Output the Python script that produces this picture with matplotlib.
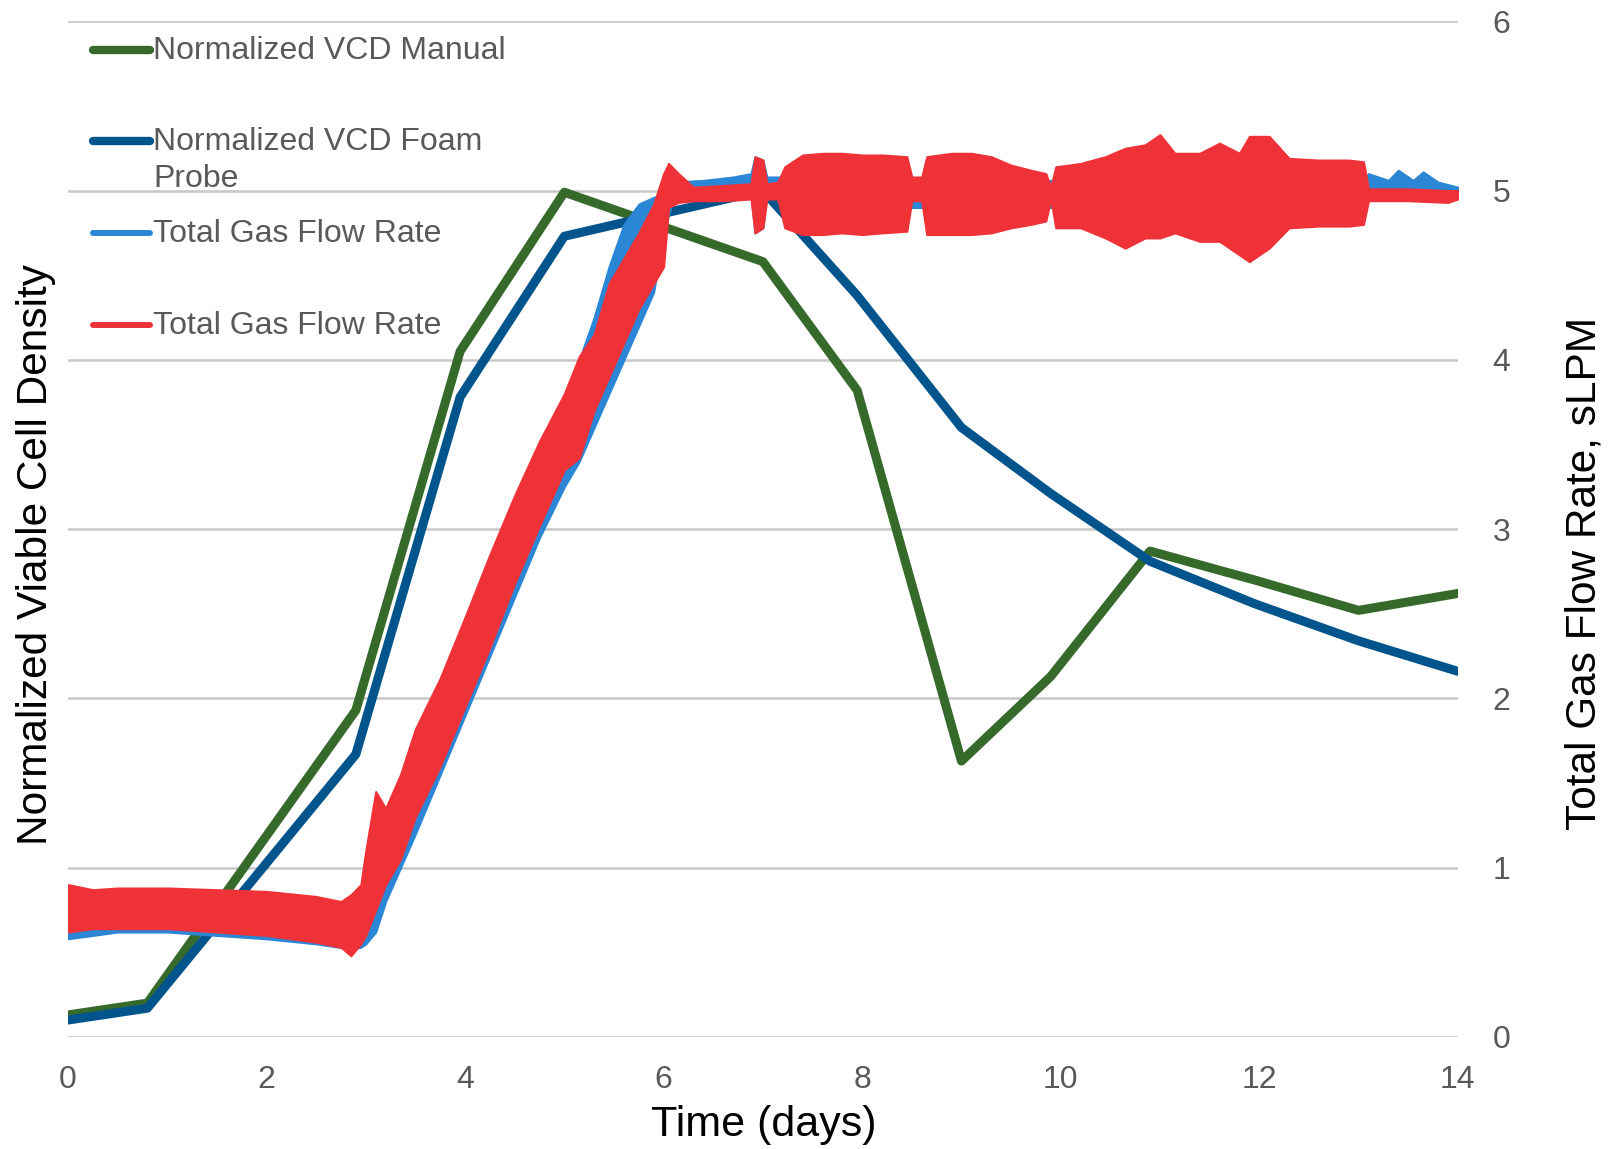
import matplotlib
matplotlib.use('Agg')
import matplotlib.pyplot as plt
from matplotlib.lines import Line2D

plt.rcParams['font.family'] = ['Liberation Sans', 'DejaVu Sans']

# VCD sampling days and values (plotted against the 0-6 scale)
vcd_days = [0.0, 0.8, 2.9, 3.95, 5.0, 7.0, 7.95, 9.0, 9.9, 10.9, 11.95, 13.0, 14.0]
vcd_manual = [0.13, 0.2, 1.93, 4.05, 4.99, 4.58, 3.82, 1.63, 2.13, 2.87, 2.70, 2.52, 2.62]
vcd_probe = [0.1, 0.17, 1.67, 3.78, 4.73, 5.0, 4.38, 3.6, 3.21, 2.81, 2.56, 2.34, 2.16]

# gas flow (red trace): noise envelope
red_t = [0.0, 0.25, 0.5, 1.0, 1.5, 2.0, 2.5, 2.75, 2.85, 2.95, 3.0, 3.1, 3.2, 3.35,
         3.5, 3.75, 4.0, 4.25, 4.5, 4.75, 5.0, 5.15, 5.3, 5.45, 5.6, 5.75, 5.9, 6.0,
         6.05, 6.15, 6.3, 6.6, 6.88, 6.92, 7.0, 7.04, 7.15, 7.22, 7.4, 7.6, 7.8, 8.0,
         8.2, 8.45, 8.5, 8.6, 8.65, 8.9, 9.1, 9.3, 9.5, 9.7, 9.85, 9.9, 9.95, 10.2,
         10.45, 10.65, 10.85, 11.0, 11.15, 11.4, 11.6, 11.8, 11.9, 12.1, 12.3, 12.6,
         12.9, 13.05, 13.1, 13.5, 13.9, 14.0]
red_lo = [0.62, 0.64, 0.64, 0.64, 0.62, 0.60, 0.56, 0.53, 0.48, 0.55, 0.60, 0.75, 0.90, 1.05,
          1.30, 1.60, 1.95, 2.30, 2.68, 3.02, 3.35, 3.42, 3.70, 3.90, 4.10, 4.30, 4.45, 4.55,
          4.90, 4.93, 4.94, 4.94, 4.95, 4.75, 4.78, 4.95, 4.95, 4.78, 4.74, 4.74, 4.75, 4.74,
          4.75, 4.76, 4.94, 4.94, 4.74, 4.74, 4.74, 4.75, 4.78, 4.80, 4.82, 4.95, 4.78, 4.78,
          4.72, 4.66, 4.72, 4.72, 4.75, 4.70, 4.70, 4.62, 4.58, 4.66, 4.78, 4.79,
          4.79, 4.80, 4.94, 4.94, 4.93, 4.95]
red_hi = [0.90, 0.87, 0.88, 0.88, 0.87, 0.86, 0.83, 0.80, 0.84, 0.90, 1.10, 1.45, 1.35, 1.55,
          1.82, 2.12, 2.48, 2.85, 3.20, 3.52, 3.80, 4.02, 4.15, 4.45, 4.60, 4.75, 4.92, 5.10,
          5.16, 5.10, 5.02, 5.03, 5.04, 5.20, 5.18, 5.04, 5.05, 5.14, 5.21, 5.22, 5.22, 5.21,
          5.21, 5.20, 5.08, 5.08, 5.20, 5.22, 5.22, 5.20, 5.15, 5.12, 5.10, 5.02, 5.14, 5.16,
          5.20, 5.25, 5.27, 5.33, 5.22, 5.22, 5.28, 5.22, 5.32, 5.32, 5.19, 5.18,
          5.18, 5.17, 5.01, 5.01, 5.00, 5.00]

# gas flow (blue trace): noise envelope
blue_t = [0.0, 0.5, 1.0, 2.0, 2.5, 2.85, 2.95, 3.0, 3.1, 3.2, 3.5, 3.75, 4.0, 4.25, 4.5,
          4.75, 5.0, 5.15, 5.3, 5.45, 5.6, 5.75, 5.9, 6.0, 6.1, 6.4, 6.7, 6.88, 6.92, 7.0,
          7.04, 7.2, 7.3, 10.0, 13.05, 13.1, 13.3, 13.4, 13.55, 13.65, 13.8, 14.0]
blue_lo = [0.58, 0.62, 0.62, 0.58, 0.55, 0.52, 0.53, 0.55, 0.62, 0.80, 1.20, 1.55, 1.90, 2.25, 2.60,
           2.95, 3.25, 3.40, 3.60, 3.80, 4.00, 4.20, 4.40, 4.75, 4.96, 4.97, 4.98, 4.98, 4.75, 4.78,
           4.98, 4.98, 4.90, 4.90, 4.90, 4.98, 4.99, 4.99, 4.99, 4.99, 4.99, 4.98]
blue_hi = [0.85, 0.86, 0.86, 0.84, 0.80, 0.78, 0.80, 0.95, 1.15, 1.30, 1.75, 2.05, 2.40, 2.75, 3.10,
           3.45, 3.75, 4.00, 4.25, 4.55, 4.80, 4.92, 4.96, 4.98, 5.05, 5.06, 5.08, 5.10, 5.20, 5.18,
           5.08, 5.08, 5.06, 5.06, 5.06, 5.10, 5.06, 5.12, 5.06, 5.11, 5.05, 5.02]

x_ticks = [0, 2, 4, 6, 8, 10, 12, 14]
y_ticks = [0, 1, 2, 3, 4, 5, 6]

green = '#356A2B'
navy = '#02548D'
light_blue = '#2B86D6'
red = '#EE3238'
grey_txt = '#595959'

fig = plt.figure(figsize=(16.18, 11.49), dpi=100)
ax = fig.add_axes([0.042, 0.0975, 0.859, 0.884])

ax.plot(vcd_days, vcd_manual, color=green, lw=6.5, zorder=3, solid_capstyle='round')
ax.plot(vcd_days, vcd_probe, color=navy, lw=6.5, zorder=4, solid_capstyle='round')
ax.fill_between(blue_t, blue_lo, blue_hi, color=light_blue, lw=1.5, edgecolor=light_blue, zorder=5)
ax.fill_between(red_t, red_lo, red_hi, color=red, lw=1.5, edgecolor=red, zorder=6)

ax.set_xlim(0, 14)
ax.set_ylim(0, 6)
ax.set_xticks(x_ticks)
ax.set_yticks(y_ticks)
ax.yaxis.tick_right()
ax.yaxis.grid(True, color='#C8C8C8', lw=1.8)
ax.set_axisbelow(True)
for s in ax.spines.values():
    s.set_visible(False)
ax.tick_params(axis='x', length=0, pad=20, labelsize=23, labelcolor=grey_txt)
ax.tick_params(axis='y', length=0, pad=25, labelsize=23, labelcolor=grey_txt)

fig.text(0.472, 0.021, 'Time (days)', fontsize=31, ha='center', va='center')
fig.text(0.0223, 0.517, 'Normalized Viable Cell Density', fontsize=30.5, rotation=90,
         ha='center', va='center')
fig.text(0.979, 0.501, 'Total Gas Flow Rate, sLPM', fontsize=30.5, rotation=90,
         ha='center', va='center')

# legend, drawn by hand to keep the wrapped label beside its line
legend_items = [
    ('Normalized VCD Manual', green, 6, 0.9562),
    ('Normalized VCD Foam', navy, 6, 0.8774),
    ('Total Gas Flow Rate', light_blue, 4.3, 0.7973),
    ('Total Gas Flow Rate', red, 4.3, 0.7173),
]
for label, col, lw, yy in legend_items:
    fig.add_artist(Line2D([0.0575, 0.0925], [yy, yy], color=col, lw=lw,
                          solid_capstyle='round'))
    fig.text(0.0945, yy - 0.001, label, fontsize=23, color=grey_txt, ha='left', va='center')
fig.text(0.0945, 0.8442, 'Probe', fontsize=23, color=grey_txt, ha='left', va='center')

fig.savefig('out.png', dpi=100)
